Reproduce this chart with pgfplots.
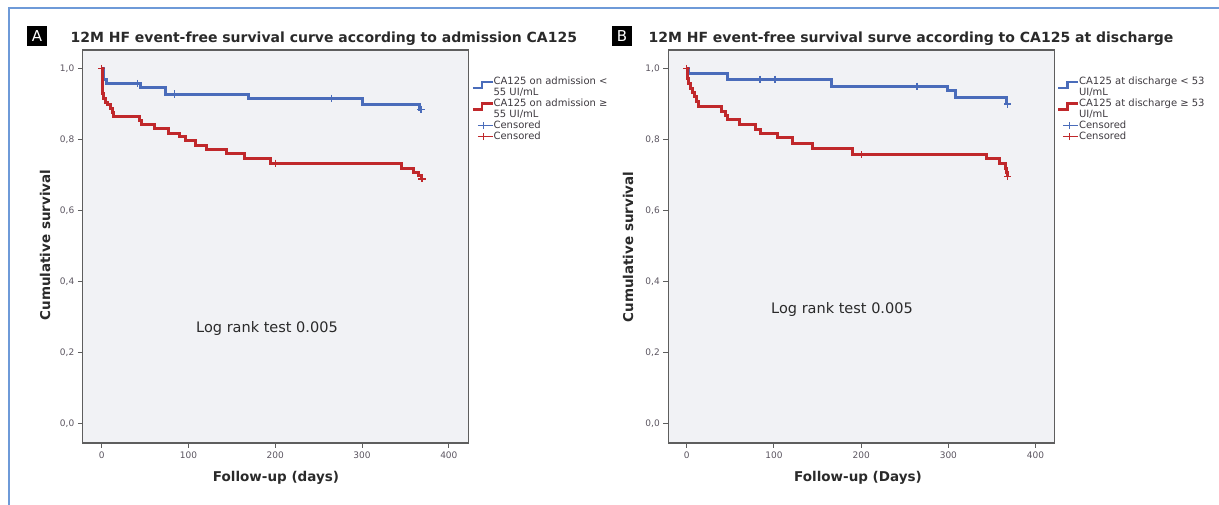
\documentclass[border=0pt]{standalone}
\usepackage{pgfplots}
\pgfplotsset{compat=1.18}
\usepackage{fontspec}
\setmainfont{DejaVu Sans}
\definecolor{kmblue}{HTML}{4A6CBA}
\definecolor{kmred}{HTML}{C0282B}
\definecolor{bgplot}{HTML}{F1F2F5}
\definecolor{framec}{HTML}{5E5E5E}
\definecolor{tickc}{HTML}{5B5560}
\definecolor{legc}{HTML}{3E3A40}
\definecolor{borderblue}{HTML}{6E9AD8}
\definecolor{textc}{HTML}{2A2A2A}

\pgfplotstableread{
d s
0 1.0
2 0.970
6 0.958
45 0.945
74 0.928
169 0.916
301 0.899
366 0.885
368 0.885
}\blueA
\pgfplotstableread{
d s
0 1.0
1 0.930
2 0.915
4 0.905
7 0.898
10 0.888
12 0.877
14 0.866
43 0.853
46 0.843
61 0.831
77 0.818
90 0.807
96 0.797
108 0.784
121 0.773
144 0.760
165 0.747
194 0.733
346 0.719
359 0.708
365 0.698
369 0.689
}\redA
\pgfplotstableread{
d s
41 0.958
84 0.928
265 0.916
368 0.885
}\blueAc
\pgfplotstableread{
d s
0 1.0
200 0.733
369 0.689
}\redAc
\pgfplotstableread{
d s
0 1.0
2 0.986
47 0.970
166 0.950
299 0.939
308 0.917
367 0.900
368 0.900
}\blueB
\pgfplotstableread{
d s
0 1.0
0.3 0.972
2 0.958
4 0.944
6.5 0.932
8.5 0.920
11 0.906
13 0.892
40 0.878
44 0.867
47 0.856
60 0.843
79 0.829
85 0.818
104 0.805
121 0.790
144 0.775
190 0.757
344 0.745
359 0.732
365 0.718
367 0.707
368 0.695
}\redB
\pgfplotstableread{
d s
84 0.970
101 0.970
264 0.950
368 0.900
}\blueBc
\pgfplotstableread{
d s
0 1.0
200 0.757
368 0.695
}\redBc

\pgfplotsset{
  kmaxis/.style={
    scale only axis, width=386pt, height=393pt,
    axis background/.style={fill=bgplot},
    axis line style={framec, line width=1.2pt},
    ymin=-0.055, ymax=1.052,
    ytick={0,0.2,0.4,0.6,0.8,1.0},
    yticklabels={{0,0},{0,2},{0,4},{0,6},{0,8},{1,0}},
    xtick={0,100,200,300,400},
    xticklabels={0,100,200,300,400},
    tick align=outside, tick pos=left,
    major tick length=5pt,
    every tick/.style={framec, line width=1pt},
    ticklabel style={font=\fontsize{9}{10}\selectfont, text=tickc},
    legend style={at={(axis description cs:1,0.932)}, anchor=north west,
      xshift=4pt, draw=none, fill=none, inner sep=0pt, outer sep=0pt,
      font=\fontsize{10}{11}\selectfont, text=legc, row sep=1pt,
      cells={anchor=west}, nodes={inner sep=0.5pt}},
    legend cell align=left,
  },
  kmstep/.style={const plot, line width=3pt, line join=miter,
    legend image code/.code={\path[draw=none, fill=none] (0pt,-2pt) rectangle (20pt,2pt);
      \draw[##1, line width=2.4pt, overlay] (0pt,-6pt) -- (9pt,-6pt) -- (9pt,0pt) -- (20pt,0pt);}},
  kmcens/.style={only marks, mark=+, mark size=3.6pt, mark options={line width=1.3pt},
    legend image code/.code={\path[draw=none, fill=none] (0pt,-2pt) rectangle (20pt,2pt);
      \draw[##1, line width=0.6pt] (5pt,0pt) -- (20pt,0pt);
      \draw[##1, line width=0.6pt] (11pt,-3.5pt) -- (11pt,3.5pt);}},
  kmempty/.style={legend image code/.code={\path[draw=none, fill=none] (0pt,-2pt) rectangle (20pt,2pt);}},
}

\begin{document}
\begin{tikzpicture}[x=1pt,y=1pt]
\path[use as bounding box] (0,0) rectangle (1219,505);
% figure border
\draw[borderblue, line width=1.2pt] (9,0) -- (9,497) -- (1219,497);

% Panel A
\begin{axis}[kmaxis, at={(82.8pt,62pt)}, anchor=south west, xmin=-21.8, xmax=423]
\addplot[kmstep, kmblue] table[x=d,y=s] {\blueA};
\addlegendentry{CA125 on admission <}
\addlegendimage{kmempty}
\addlegendentry{55 UI/mL}
\addplot[kmstep, kmred] table[x=d,y=s] {\redA};
\addlegendentry{CA125 on admission ≥}
\addlegendimage{kmempty}
\addlegendentry{55 UI/mL}
\addplot[kmcens, kmblue] table[x=d,y=s] {\blueAc};
\addlegendentry{Censored}
\addplot[kmcens, kmred] table[x=d,y=s] {\redAc};
\addlegendentry{Censored}
\end{axis}

% Panel B
\begin{axis}[kmaxis, at={(668.3pt,62pt)}, anchor=south west, xmin=-21.2, xmax=421.5]
\addplot[kmstep, kmblue] table[x=d,y=s] {\blueB};
\addlegendentry{CA125 at discharge < 53}
\addlegendimage{kmempty}
\addlegendentry{UI/mL}
\addplot[kmstep, kmred] table[x=d,y=s] {\redB};
\addlegendentry{CA125 at discharge ≥ 53}
\addlegendimage{kmempty}
\addlegendentry{UI/mL}
\addplot[kmcens, kmblue] table[x=d,y=s] {\blueBc};
\addlegendentry{Censored}
\addplot[kmcens, kmred] table[x=d,y=s] {\redBc};
\addlegendentry{Censored}
\end{axis}

% Panel labels and titles
\fill[black] (27,459) rectangle (47,479);
\node[text=white, font=\fontsize{15}{15}\selectfont] at (37,469) {A};
\node[anchor=base west, font=\fontsize{14}{16}\selectfont\bfseries, text=textc] at (67,462) {12M HF event-free survival curve according to admission CA125};
\fill[black] (612,459) rectangle (632,479);
\node[text=white, font=\fontsize{15}{15}\selectfont] at (622,469) {B};
\node[anchor=base west, font=\fontsize{14}{16}\selectfont\bfseries, text=textc] at (645,462) {12M HF event-free survival surve according to CA125 at discharge};

% axis labels
\node[rotate=90, font=\fontsize{13.5}{15}\selectfont\bfseries, text=textc] at (45,260) {Cumulative survival};
\node[rotate=90, font=\fontsize{13.5}{15}\selectfont\bfseries, text=textc] at (628,258) {Cumulative survival};
\node[font=\fontsize{13.5}{15}\selectfont\bfseries, text=textc] at (276,27) {Follow-up (days)};
\node[font=\fontsize{13.5}{15}\selectfont\bfseries, text=textc] at (858,27) {Follow-up (Days)};

% annotations
\node[font=\fontsize{14.5}{16}\selectfont, text=textc] at (267,176) {Log rank test 0.005};
\node[font=\fontsize{14.5}{16}\selectfont, text=textc] at (842,195) {Log rank test 0.005};
\end{tikzpicture}
\end{document}
